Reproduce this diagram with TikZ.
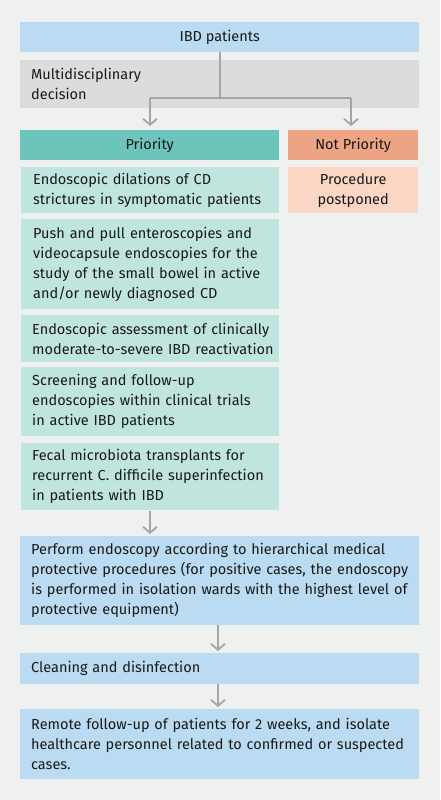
\documentclass[tikz,border=0pt]{standalone}
\usepackage{fontspec}
\setmainfont{Fira Sans}
\usetikzlibrary{arrows.meta}
\definecolor{bgc}{HTML}{EFF1F1}
\definecolor{bluec}{HTML}{BADBF1}
\definecolor{grayc}{HTML}{DCDCDD}
\definecolor{tealc}{HTML}{6CC4BB}
\definecolor{salmonc}{HTML}{EDA484}
\definecolor{ltealc}{HTML}{C0E5DF}
\definecolor{peachc}{HTML}{FBD6C4}
\definecolor{arrc}{HTML}{A5A5A5}
\tikzset{
  box/.style={anchor=north west, inner sep=0pt, font=\fontsize{14.5}{20}\selectfont, text=black!90},
  arr/.style={draw=arrc, line width=1.8pt, -{Straight Barb[length=6pt,width=14pt,line width=1.8pt]}},
  ln/.style={draw=arrc, line width=1.8pt}
}
\begin{document}
\begin{tikzpicture}[x=1pt,y=-1pt]
\fill[bgc] (0,0) rectangle (440,800);
\useasboundingbox (0,0) rectangle (440,800);
% boxes
\node[box, fill=bluec, minimum width=399pt, minimum height=30pt] (ibd) at (20,22) {IBD patients};
\node[box, fill=grayc, minimum width=399pt, minimum height=48pt, align=left, text width=377pt] (multi) at (20,60) {Multidisciplinary\\decision};
\node[box, fill=tealc, minimum width=259pt, minimum height=30pt] (prio) at (20,130) {Priority};
\node[box, fill=salmonc, minimum width=130pt, minimum height=30pt] (notprio) at (288,130) {Not Priority};
\node[box, fill=ltealc, minimum width=258pt, minimum height=46pt, align=left, text width=234pt] (d1) at (21,167) {\mbox{Endoscopic dilations of CD}\\\mbox{strictures in symptomatic patients}};
\node[box, fill=peachc, minimum width=130pt, minimum height=46pt, align=center] (post) at (288,167) {Procedure\\postponed};
\node[box, fill=ltealc, minimum width=258pt, minimum height=90pt, align=left, text width=234pt] (d2) at (21,219) {\mbox{Push and pull enteroscopies and}\\\mbox{videocapsule endoscopies for the}\\\mbox{study of the small bowel in active}\\\mbox{and/or newly diagnosed CD}};
\node[box, fill=ltealc, minimum width=258pt, minimum height=47pt, align=left, text width=236pt] (d3) at (21,315) {\mbox{Endoscopic assessment of clinically}\\\mbox{moderate-to-severe IBD reactivation}};
\node[box, fill=ltealc, minimum width=258pt, minimum height=69pt, align=left, text width=236pt] (d4) at (21,367) {\mbox{Screening and follow-up}\\\mbox{endoscopies within clinical trials}\\\mbox{in active IBD patients}};
\node[box, fill=ltealc, minimum width=258pt, minimum height=67pt, align=left, text width=236pt] (d5) at (21,443) {\mbox{Fecal microbiota transplants for}\\\mbox{recurrent C. difficile superinfection}\\\mbox{in patients with IBD}};
\node[box, fill=bluec, minimum width=399pt, minimum height=89pt, align=left, text width=377pt] (perform) at (20,536) {\mbox{Perform endoscopy according to hierarchical medical}\\\mbox{protective procedures (for positive cases, the endoscopy}\\\mbox{is performed in isolation wards with the highest level of}\\\mbox{protective equipment)}};
\node[box, fill=bluec, minimum width=399pt, minimum height=31pt, align=left, text width=377pt] (clean) at (20,653) {Cleaning and disinfection};
\node[box, fill=bluec, minimum width=399pt, minimum height=70pt, align=left, text width=377pt] (remote) at (20,709) {\mbox{Remote follow-up of patients for 2 weeks, and isolate}\\\mbox{healthcare personnel related to confirmed or suspected}\\\mbox{cases.}};
% connectors
\coordinate (j) at (220,98);
\coordinate (jl) at (150,98);
\coordinate (jr) at (351,98);
\draw[ln] (ibd.south -| j) -- (j);
\draw[ln] (jl) -- (jr);
\draw[arr, shorten >=4pt] (jl) -- (jl |- prio.north);
\draw[arr, shorten >=4pt] (jr) -- (jr |- notprio.north);
\draw[arr, shorten >=2pt, shorten <=1pt] (d5.south -| jl) -- (jl |- perform.north);
\coordinate (cx) at (218,0);
\draw[arr, shorten >=2pt] (perform.south -| cx) -- (clean.north -| cx);
\draw[arr, shorten >=2pt] (clean.south -| cx) -- (remote.north -| cx);
\end{tikzpicture}
\end{document}
